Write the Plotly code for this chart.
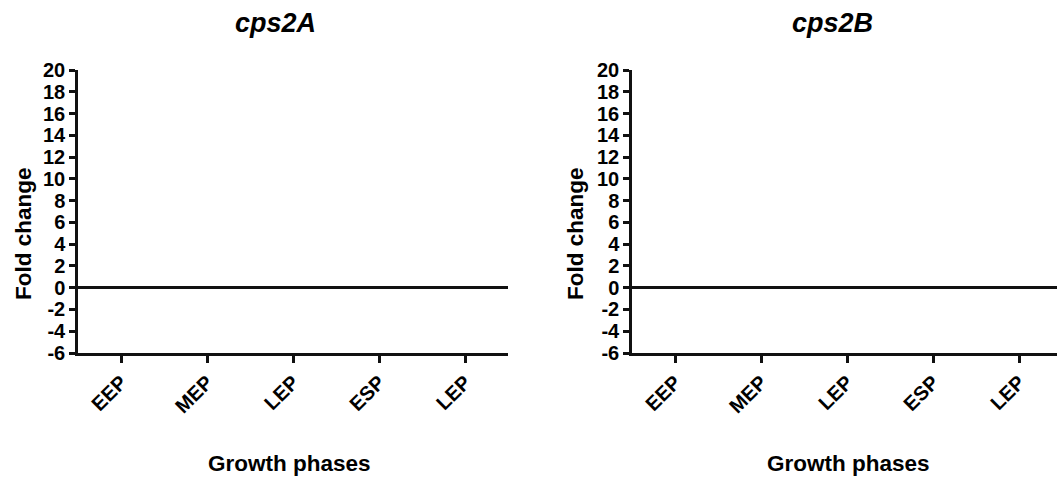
import plotly.graph_objects as go

# Growth phase categories (the last phase label repeats "LEP")
phases = ["EEP", "MEP", "LEP", "ESP", "LEP"]
phase_pos = [0, 1, 2, 3, 4]

# Fold change per phase for each gene (no expression change plotted)
fold_cps2A = [0, 0, 0, 0, 0]
fold_cps2B = [0, 0, 0, 0, 0]

y_ticks = [-6, -4, -2, 0, 2, 4, 6, 8, 10, 12, 14, 16, 18, 20]
y_tick_text = ["-6", "-4", "-2", "0", "2", "4", "6", "8", "10", "12", "14", "16", "18", "20"]

W, H = 1057, 481
FONT = "Liberation Sans, Arial, sans-serif"
INK = "#111111"

fig = go.Figure()
fig.add_trace(go.Bar(x=phase_pos, y=fold_cps2A, xaxis="x", yaxis="y",
                     marker=dict(color=INK, line=dict(width=0)), showlegend=False))
fig.add_trace(go.Bar(x=phase_pos, y=fold_cps2B, xaxis="x2", yaxis="y2",
                     marker=dict(color=INK, line=dict(width=0)), showlegend=False))


def px_x(v):
    return v / W


def px_y(v):
    return 1 - v / H


xaxis_common = dict(
    tickmode="array", tickvals=phase_pos, ticktext=phases, tickangle=-45,
    showline=True, linecolor=INK, linewidth=2.5, mirror=False,
    ticks="outside", ticklen=7, tickwidth=2.5, tickcolor=INK,
    showgrid=False, zeroline=False, fixedrange=True, automargin=False,
    tickfont=dict(family=FONT, size=20, color="black", weight="bold"),
)
yaxis_common = dict(
    range=[-6, 20], tickmode="array", tickvals=y_ticks, ticktext=y_tick_text,
    showline=True, linecolor=INK, linewidth=2.5,
    ticks="outside", ticklen=6, tickwidth=2.5, tickcolor=INK,
    showgrid=False, zeroline=True, zerolinecolor=INK, zerolinewidth=2.5,
    fixedrange=True, automargin=False,
    tickfont=dict(family=FONT, size=20, color="black", weight="bold"),
)

fig.update_layout(
    width=W, height=H,
    margin=dict(l=0, r=0, t=0, b=0, autoexpand=False),
    paper_bgcolor="white", plot_bgcolor="white",
    bargap=0.4,
    xaxis=dict(domain=[px_x(78), px_x(508)], range=[-0.5, 4.5], anchor="y", **xaxis_common),
    yaxis=dict(domain=[px_y(353), px_y(70)], anchor="x", **yaxis_common),
    xaxis2=dict(domain=[px_x(632), 1.0], range=[-0.5, 4.44], anchor="y2", **xaxis_common),
    yaxis2=dict(domain=[px_y(353), px_y(70)], anchor="x2", **yaxis_common),
)

bold = dict(family=FONT, color="black", weight="bold")
notes = [
    dict(text="cps2A", x=px_x(275), y=px_y(23), font=dict(size=27, style="italic", **bold)),
    dict(text="cps2B", x=px_x(832), y=px_y(23), font=dict(size=27, style="italic", **bold)),
    dict(text="Fold change", x=px_x(23), y=px_y(234), textangle=-90, font=dict(size=22.5, **bold)),
    dict(text="Fold change", x=px_x(575), y=px_y(234), textangle=-90, font=dict(size=22.5, **bold)),
    dict(text="Growth phases", x=px_x(289), y=px_y(463), font=dict(size=22.5, **bold)),
    dict(text="Growth phases", x=px_x(848), y=px_y(463), font=dict(size=22.5, **bold)),
]
for n in notes:
    fig.add_annotation(xref="paper", yref="paper", showarrow=False,
                       xanchor="center", yanchor="middle", **n)

fig.write_html("out.html")
